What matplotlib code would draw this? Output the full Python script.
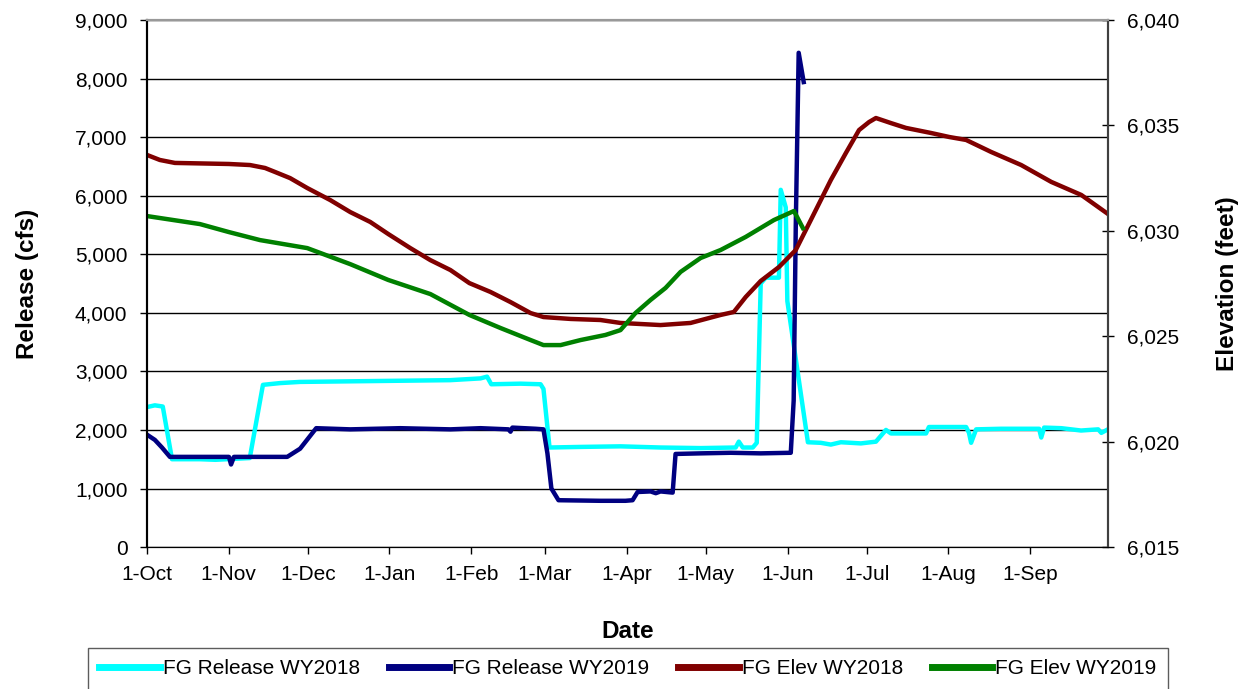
import matplotlib
matplotlib.use("Agg")
import matplotlib.pyplot as plt
from matplotlib.ticker import FuncFormatter

plt.rcParams['font.family'] = ['Liberation Sans', 'DejaVu Sans']

# x values are days since 1-Oct of the water year
month_days = [0, 31, 61, 92, 123, 151, 182, 212, 243, 273, 304, 335]
month_labels = ["1-Oct", "1-Nov", "1-Dec", "1-Jan", "1-Feb", "1-Mar", "1-Apr",
                "1-May", "1-Jun", "1-Jul", "1-Aug", "1-Sep"]

rel18_day = [0, 3, 6, 9.5, 20, 26, 39, 44, 50.5, 58, 77, 96, 115, 122.7, 126.5, 129,
             130.6, 141.7, 149.3, 150.4, 152.7, 164.5, 179.6, 194.8, 210, 223.3, 224.5,
             226, 229.8, 231.3, 232.8, 234.7, 239.7, 240.4, 242.3, 242.9, 250.7, 255.6,
             259.4, 263.2, 270.8, 276.5, 280.3, 282.2, 295.5, 296.6, 310.7, 311.8, 312.6,
             314.5, 324, 338.4, 339.2, 340.3, 346.8, 354.3, 360.8, 362, 364.5]
rel18_cfs = [2390, 2420, 2400, 1500, 1500, 1490, 1520, 2770, 2800, 2820, 2830, 2840, 2850,
             2870, 2880, 2910, 2780, 2790, 2780, 2700, 1700, 1710, 1720, 1700, 1690, 1700,
             1800, 1700, 1700, 1780, 4500, 4600, 4600, 6100, 5800, 4200, 1790, 1780,
             1750, 1790, 1770, 1800, 2000, 1940, 1940, 2050, 2050, 1950, 1780, 2010,
             2020, 2020, 1870, 2040, 2030, 1990, 2010, 1950, 2010]

rel19_day = [0, 3, 5.7, 8.7, 31.1, 31.9, 33, 53.2, 58.1, 64.2, 77.1, 96.1, 115.1, 126.5,
             137.1, 137.9, 138.6, 147.4, 150.4, 151.9, 153.4, 156.1, 172, 181.5, 184.2,
             186.1, 191, 193, 194.8, 199.4, 200.5, 210, 221.4, 232.8, 244.2, 245.3, 246.1,
             247.2, 249.1]
rel19_cfs = [1920, 1830, 1700, 1540, 1540, 1410, 1540, 1540, 1680, 2030, 2010, 2030, 2010,
             2030, 2010, 1970, 2040, 2020, 2010, 1600, 1000, 800, 790, 790, 800, 940, 950,
             920, 950, 930, 1590, 1600, 1610, 1600, 1610, 2500, 5500, 8440, 7940]

elev18_day = [0, 4.9, 10.6, 31.1, 39.1, 44.8, 48.6, 54.3, 60.8, 69.5, 77.1, 84.7, 91.5,
              99.9, 107.5, 115.1, 122.3, 130.3, 137.9, 145.5, 150.4, 160.7, 172.0, 179.6,
              194.8, 206.2, 217.6, 222.6, 227.1, 232.8, 239.7, 246.1, 251.8, 259.4, 265.1,
              270.1, 273.9, 276.5, 282.2, 287.9, 297.4, 304.3, 310.7, 320.2, 331.6, 343.0,
              354.4, 364.5]
elev18_ft = [6033.60, 6033.36, 6033.22, 6033.17, 6033.12, 6032.98, 6032.79, 6032.50,
             6032.03, 6031.46, 6030.89, 6030.42, 6029.85, 6029.18, 6028.61, 6028.14,
             6027.52, 6027.10, 6026.62, 6026.10, 6025.91, 6025.82, 6025.77, 6025.63,
             6025.53, 6025.63, 6026.01, 6026.15, 6026.86, 6027.62, 6028.28, 6029.09,
             6030.51, 6032.41, 6033.69, 6034.78, 6035.16, 6035.35, 6035.11, 6034.88,
             6034.64, 6034.45, 6034.31, 6033.74, 6033.12, 6032.32, 6031.70, 6030.80]

elev19_day = [0, 20.1, 31.1, 42.9, 60.8, 77.1, 91.5, 107.5, 122.3, 134.1, 145.5, 150.4,
              156.9, 164.5, 173.9, 179.6, 185.3, 191.0, 196.7, 202.4, 210.0, 217.6, 227.1,
              237.8, 245.4, 248.8]
elev19_ft = [6030.70, 6030.32, 6029.94, 6029.56, 6029.18, 6028.42, 6027.67, 6027.00,
             6026.01, 6025.39, 6024.82, 6024.58, 6024.58, 6024.82, 6025.06, 6025.29,
             6026.10, 6026.72, 6027.29, 6028.05, 6028.71, 6029.09, 6029.71, 6030.51,
             6030.94, 6030.13]

fig = plt.figure(figsize=(12.4, 6.89), dpi=100)
ax = fig.add_axes([0.1185, 0.206, 0.775, 0.765])
ax2 = ax.twinx()

l1, = ax.plot(rel18_day, rel18_cfs, color="#00FFFF", lw=3.2, label="FG Release WY2018")
l2, = ax.plot(rel19_day, rel19_cfs, color="#000080", lw=3.2, label="FG Release WY2019")
l3, = ax2.plot(elev18_day, elev18_ft, color="#800000", lw=3.2, label="FG Elev WY2018")
l4, = ax2.plot(elev19_day, elev19_ft, color="#008000", lw=3.2, label="FG Elev WY2019")

ax.set_xlim(0, 364.5)
ax.set_ylim(0, 9000)
ax2.set_ylim(6015, 6040)
ax.set_yticks(range(0, 9001, 1000))
ax2.set_yticks(range(6015, 6041, 5))
ax.yaxis.set_major_formatter(FuncFormatter(lambda v, p: f"{int(v):,}"))
ax2.yaxis.set_major_formatter(FuncFormatter(lambda v, p: f"{int(v):,}"))
ax.set_xticks(month_days)
ax.set_xticklabels(month_labels)

ax.grid(axis="y", color="black", lw=1)
ax.set_axisbelow(True)
for a in (ax, ax2):
    a.spines["top"].set_color("#999999")
    a.spines["top"].set_linewidth(1.5)
    a.spines["left"].set_linewidth(1.5)
    a.spines["right"].set_linewidth(1.5)
    a.spines["right"].set_color("#404040")
ax.tick_params(axis="y", labelsize=15, direction="out", length=5, width=1, pad=9)
ax.tick_params(axis="x", labelsize=15, direction="out", length=5, width=1, pad=8)
ax2.tick_params(axis="y", labelsize=15, direction="inout", length=8, width=1, pad=10)

ax.set_ylabel("Release (cfs)", fontsize=17.5, fontweight="bold", labelpad=26)
ax2.set_ylabel("Elevation (feet)", fontsize=17.5, fontweight="bold", labelpad=26)
ax.set_xlabel("Date", fontsize=17.5, fontweight="bold", labelpad=26)

leg = fig.legend(handles=[l1, l2, l3, l4], loc="upper left", ncol=4, mode="expand",
                 bbox_to_anchor=(88 / 1240, 1 - 648 / 689, 1080 / 1240, 0),
                 fontsize=15, frameon=True, fancybox=False, edgecolor="#333333",
                 handlelength=2.9, handletextpad=0.15, borderpad=0.55, borderaxespad=0)
leg.get_frame().set_linewidth(1)
for h in leg.get_lines():
    h.set_linewidth(5)

fig.savefig("out.png", dpi=100)
